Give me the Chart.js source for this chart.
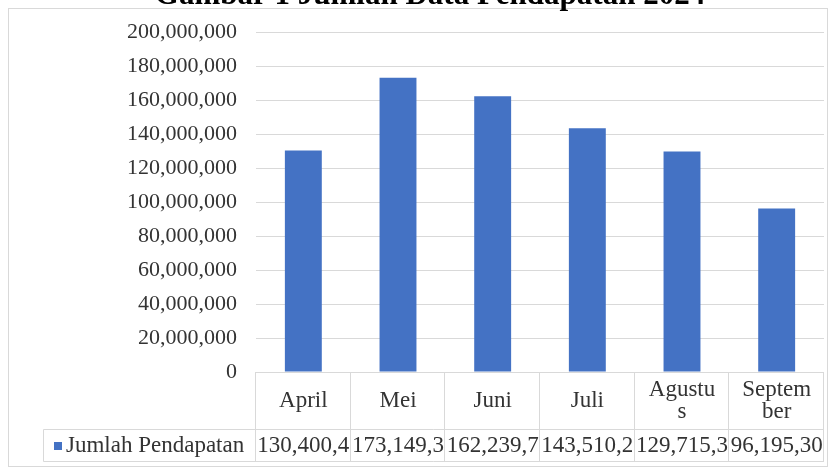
<!DOCTYPE html>
<html>
<head>
<meta charset="utf-8">
<title>Jumlah Pendapatan 2024</title>
<script src="https://cdn.jsdelivr.net/npm/chart.js@4"></script>
<style>
body { margin: 0; background: #fff; }
#wrap { position: relative; width: 835px; height: 468px; }
</style>
</head>
<body>
<div id="wrap"><canvas id="pendapatanChart" width="835" height="468"></canvas></div>
<script>
const chartTitle = "Gambar 1 Jumlah Data Pendapatan 2024";
const seriesName = "Jumlah Pendapatan";
const months = ["April", "Mei", "Juni", "Juli", "Agustus", "September"];
const pendapatan = [130400400, 173149300, 162239700, 143510200, 129715300, 96195300];
const yTicks = [0, 20000000, 40000000, 60000000, 80000000, 100000000,
                120000000, 140000000, 160000000, 180000000, 200000000];

const serif = "'Liberation Serif', 'Times New Roman', serif";
const barColor = "#4472c4";
const lineColor = "#d9d9d9";
const textColor = "#333333";

function fmt(v) {
  return v.toLocaleString("en-US");
}

// break a word by characters so every line fits the cell
function wrapChars(ctx, text, maxW) {
  const lines = [];
  let cur = "";
  for (const ch of text) {
    if (cur && ctx.measureText(cur + ch).width > maxW) {
      lines.push(cur);
      cur = ch;
    } else {
      cur += ch;
    }
  }
  lines.push(cur);
  return lines;
}

// cut text down until it fits (like a spreadsheet cell)
function fitChars(ctx, text, maxW) {
  let t = text;
  while (t.length > 1 && ctx.measureText(t).width > maxW) t = t.slice(0, -1);
  return t;
}

const framePlugin = {
  id: "frame",
  beforeDraw(chart) {
    const ctx = chart.ctx;
    ctx.save();
    ctx.fillStyle = "#fff";
    ctx.fillRect(0, 0, chart.width, chart.height);
    ctx.strokeStyle = lineColor;
    ctx.lineWidth = 1;
    ctx.strokeRect(8.5, 8.5, 819, 458);
    ctx.restore();
  },
  afterDraw(chart) {
    const ctx = chart.ctx;
    ctx.save();
    ctx.font = "bold 31px " + serif;
    ctx.fillStyle = "#000";
    ctx.textAlign = "center";
    ctx.textBaseline = "alphabetic";
    ctx.fillText(chartTitle, 430, 4);
    ctx.restore();
  }
};

// data table under the bars: month headers + one value row
const tablePlugin = {
  id: "dataTable",
  afterDraw(chart) {
    const ctx = chart.ctx;
    const area = chart.chartArea;
    const xs = chart.scales.x;
    const colW = (area.right - area.left) / months.length;
    const headTop = area.bottom;
    const headBottom = 429;
    const rowBottom = 461;
    const rowLeft = 43;

    ctx.save();
    ctx.strokeStyle = lineColor;
    ctx.lineWidth = 1;
    ctx.beginPath();
    for (let i = 0; i <= months.length; i++) {
      const px = Math.round(area.left + i * colW) - 0.5;
      ctx.moveTo(px, headTop);
      ctx.lineTo(px, rowBottom);
    }
    ctx.moveTo(rowLeft + 0.5, headBottom + 0.5);
    ctx.lineTo(area.right, headBottom + 0.5);
    ctx.moveTo(rowLeft + 0.5, rowBottom + 0.5);
    ctx.lineTo(area.right, rowBottom + 0.5);
    ctx.moveTo(rowLeft + 0.5, headBottom + 0.5);
    ctx.lineTo(rowLeft + 0.5, rowBottom + 0.5);
    ctx.moveTo(area.right - 0.5, headTop);
    ctx.lineTo(area.right - 0.5, rowBottom);
    ctx.stroke();

    ctx.font = "23px " + serif;
    ctx.fillStyle = textColor;
    ctx.textAlign = "center";
    ctx.textBaseline = "middle";
    const headMid = (headTop + headBottom) / 2;
    const rowMid = (headBottom + rowBottom) / 2 + 1;
    months.forEach((m, i) => {
      const cx = xs.getPixelForValue(i);
      const lines = wrapChars(ctx, m, 72);
      const lh = 22;
      const y0 = headMid - (lines.length - 1) * lh / 2;
      lines.forEach((ln, k) => ctx.fillText(ln, cx, y0 + k * lh));
      ctx.fillText(fitChars(ctx, fmt(pendapatan[i]), colW - 1), cx, rowMid);
    });

    // legend key and series name
    ctx.fillStyle = barColor;
    ctx.fillRect(54, 442, 8, 8);
    ctx.fillStyle = textColor;
    ctx.textAlign = "left";
    ctx.fillText(seriesName, 66, rowMid);
    ctx.restore();
  }
};

new Chart(document.getElementById("pendapatanChart"), {
  type: "bar",
  data: {
    labels: months,
    datasets: [{
      label: seriesName,
      data: pendapatan,
      backgroundColor: barColor,
      barPercentage: 0.39,
      categoryPercentage: 1
    }]
  },
  options: {
    responsive: false,
    animation: false,
    devicePixelRatio: 1,
    layout: { padding: { top: 32, right: 11, bottom: 96, left: 0 } },
    plugins: {
      legend: { display: false },
      title: { display: false },
      tooltip: { enabled: false }
    },
    scales: {
      x: { display: false },
      y: {
        min: 0,
        max: 200000000,
        afterBuildTicks(scale) {
          scale.ticks = yTicks.map(v => ({ value: v }));
        },
        afterFit(scale) {
          scale.width = 256;
        },
        border: { display: false },
        grid: { color: lineColor, lineWidth: 1, drawTicks: false },
        ticks: {
          padding: 19,
          color: textColor,
          font: { family: serif, size: 22 },
          callback: v => fmt(v)
        }
      }
    }
  },
  plugins: [framePlugin, tablePlugin]
});
</script>
</body>
</html>
